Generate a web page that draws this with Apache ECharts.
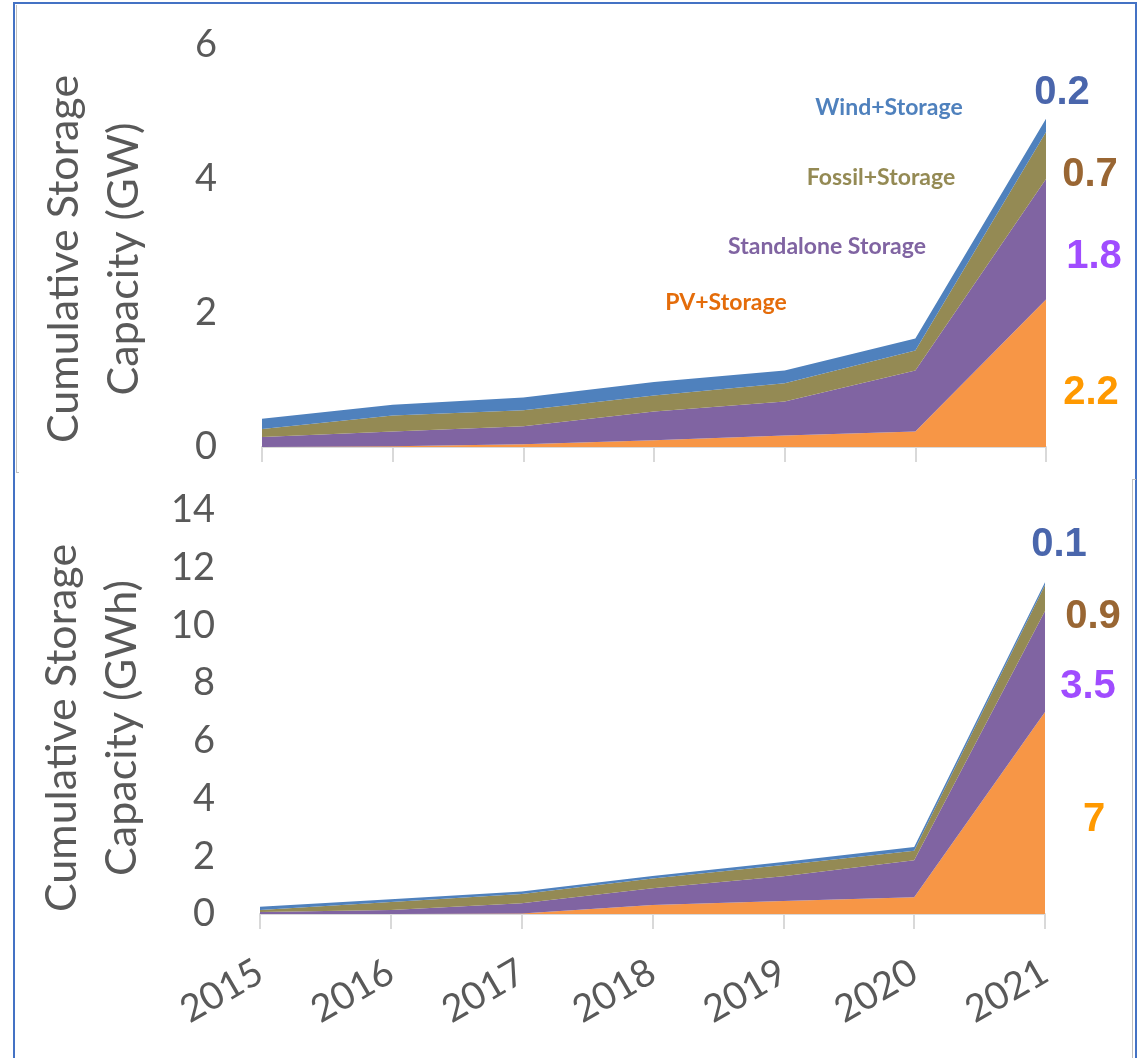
<!DOCTYPE html>
<html>
<head>
<meta charset="utf-8">
<script src="https://cdn.jsdelivr.net/npm/echarts@6/dist/echarts.min.js"></script>
<style>
  html, body { margin: 0; padding: 0; background: #fff; }
  #chart { position: absolute; left: 0; top: 0; width: 1141px; height: 1058px; }
  .frame { position: absolute; pointer-events: none; }
</style>
</head>
<body>
<div id="chart"></div>
<!-- slide frame -->
<div class="frame" style="left:13px;top:2px;width:1120px;height:1070px;border:2px solid #4472C4;border-bottom:none;"></div>
<div class="frame" style="left:16px;top:5px;height:467px;border-left:1px solid #BFBFBF;border-bottom:1px solid #BFBFBF;width:2px;"></div>
<div class="frame" style="left:1132px;top:479px;width:3px;height:600px;border-left:1px solid #BFBFBF;border-top:1px solid #BFBFBF;"></div>
<script>
const years = ['2015', '2016', '2017', '2018', '2019', '2020', '2021'];
const seriesNames = ['PV+Storage', 'Standalone Storage', 'Fossil+Storage', 'Wind+Storage'];

// power (GW), increments per segment
const gwPv = [0, 0.01, 0.04, 0.10, 0.17, 0.23, 2.2];
const gwStandalone = [0.15, 0.22, 0.27, 0.43, 0.51, 0.91, 1.8];
const gwFossil = [0.12, 0.24, 0.24, 0.24, 0.27, 0.30, 0.7];
const gwWind = [0.15, 0.16, 0.19, 0.20, 0.19, 0.18, 0.2];

// energy (GWh), increments per segment
const gwhPv = [0, 0, 0.02, 0.31, 0.45, 0.58, 7];
const gwhStandalone = [0.07, 0.14, 0.35, 0.58, 0.86, 1.28, 3.5];
const gwhFossil = [0.07, 0.28, 0.32, 0.34, 0.39, 0.33, 0.9];
const gwhWind = [0.11, 0.09, 0.09, 0.09, 0.10, 0.13, 0.1];

const gwTicks = [0, 2, 4, 6];
const gwhTicks = [0, 2, 4, 6, 8, 10, 12, 14];

const chartDom = document.getElementById('chart');
const myChart = echarts.init(chartDom);

const colors = {
    pv: '#F79646',
    standalone: '#8064A2',
    fossil: '#948A54',
    wind: '#4F81BD',
    axis: '#D9D9D9',
    text: '#595959'
};
const areaColors = [colors.pv, colors.standalone, colors.fossil, colors.wind];
const nameColors = ['#E46C0A', '#8064A2', '#948A54', '#4F81BD'];
const valueColors = ['#FF9900', '#A04CFF', '#996633', '#4A66AC'];

function makeSeries(idx, stackName, arrays) {
    return arrays.map((arr, i) => ({
        name: seriesNames[i],
        type: 'line',
        xAxisIndex: idx,
        yAxisIndex: idx,
        stack: stackName,
        data: arr,
        symbol: 'none',
        lineStyle: { width: 0 },
        areaStyle: { color: areaColors[i], opacity: 1 },
        itemStyle: { color: areaColors[i] },
        silent: true
    }));
}

// shift: pushes the rotated title down the page by that many px
function yAxisFor(idx, ticks, title, shift) {
    return {
        type: 'value',
        gridIndex: idx,
        min: ticks[0],
        max: ticks[ticks.length - 1],
        interval: ticks[1] - ticks[0],
        name: title,
        nameLocation: 'middle',
        nameGap: 108,
        nameTextStyle: {
            color: colors.text, fontSize: 43, fontFamily: 'Lato', lineHeight: 60,
            padding: [0, shift * 2, 0, 0]
        },
        axisLine: { show: false },
        axisTick: { show: false },
        splitLine: { show: false },
        axisLabel: { color: colors.text, fontSize: 38, fontFamily: 'Lato', margin: 45 }
    };
}

function xAxisFor(idx, showLabels) {
    return {
        type: 'category',
        gridIndex: idx,
        data: years,
        boundaryGap: false,
        axisLine: { show: true, lineStyle: { color: colors.axis, width: 2 } },
        axisTick: { show: true, length: 15, lineStyle: { color: colors.axis, width: 2 } },
        axisLabel: {
            show: showLabels,
            rotate: 30,
            margin: 55,
            color: colors.text,
            fontSize: 38,
            fontFamily: 'Lato'
        }
    };
}

const gwData = [gwPv, gwStandalone, gwFossil, gwWind];
const gwhData = [gwhPv, gwhStandalone, gwhFossil, gwhWind];

// annotation positions (name labels in the top panel, last-year values at the right)
const nameSpots = [[726, 303], [827, 247], [881, 178], [889, 108]];
const gwValueSpots = [[1091, 393], [1094, 257], [1090, 175], [1062, 93]];
const gwhValueSpots = [[1094, 820], [1088, 687], [1093, 617], [1059, 545]];

const graphics = [];
seriesNames.forEach((n, i) => {
    graphics.push({
        type: 'text', x: nameSpots[i][0], y: nameSpots[i][1], silent: true,
        style: { text: n, fill: nameColors[i], font: 'bold 23px Lato', align: 'center', verticalAlign: 'middle' }
    });
});
gwData.forEach((arr, i) => {
    graphics.push({
        type: 'text', x: gwValueSpots[i][0], y: gwValueSpots[i][1], silent: true,
        style: { text: String(arr[arr.length - 1]), fill: valueColors[i], font: 'bold 40px "Liberation Sans"', align: 'center', verticalAlign: 'middle' }
    });
});
gwhData.forEach((arr, i) => {
    graphics.push({
        type: 'text', x: gwhValueSpots[i][0], y: gwhValueSpots[i][1], silent: true,
        style: { text: String(arr[arr.length - 1]), fill: valueColors[i], font: 'bold 40px "Liberation Sans"', align: 'center', verticalAlign: 'middle' }
    });
});

const option = {
    backgroundColor: 'transparent',
    animation: false,
    grid: [
        { left: 262, top: 45, width: 784, height: 402 },
        { left: 260, top: 510, width: 785, height: 404 }
    ],
    xAxis: [xAxisFor(0, false), xAxisFor(1, true)],
    yAxis: [
        yAxisFor(0, gwTicks, 'Cumulative Storage\nCapacity (GW)', 13),
        yAxisFor(1, gwhTicks, 'Cumulative Storage\nCapacity (GWh)', 16)
    ],
    series: [...makeSeries(0, 'gw', gwData), ...makeSeries(1, 'gwh', gwhData)],
    graphic: graphics
};

myChart.setOption(option);
window.addEventListener('resize', () => myChart.resize());
</script>
</body>
</html>
